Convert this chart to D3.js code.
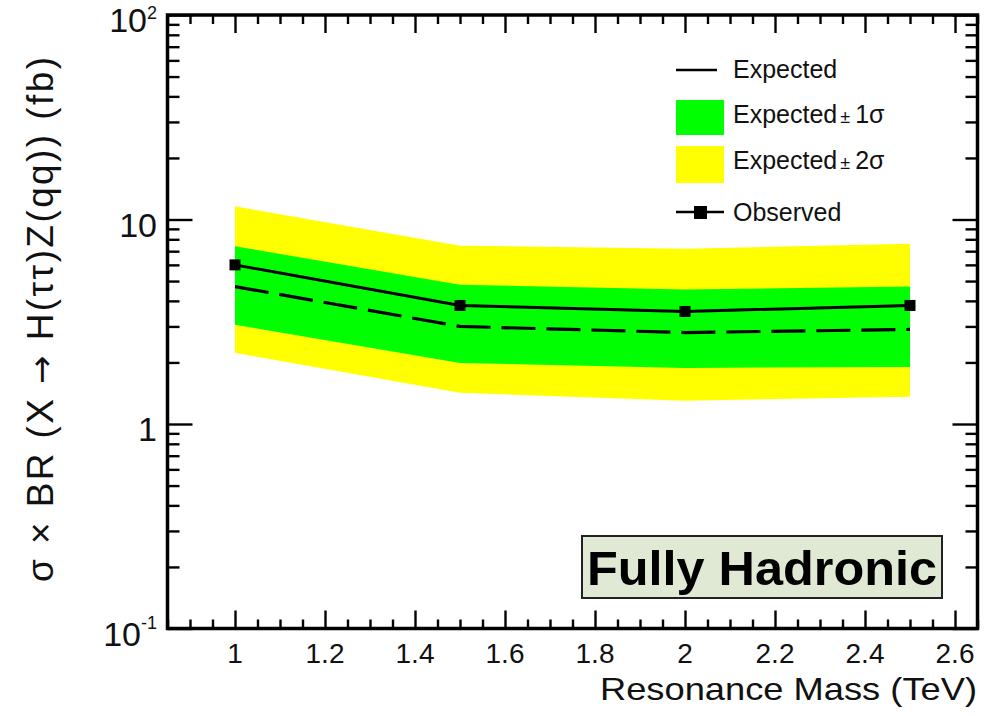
<!DOCTYPE html>
<html>
<head>
<meta charset="utf-8">
<script src="https://cdn.jsdelivr.net/npm/d3@7"></script>
<style>
  html, body { margin: 0; padding: 0; background: #fff; }
  svg { display: block; font-family: "Liberation Sans", Arial, Helvetica, sans-serif; }
</style>
</head>
<body>
<svg id="chart" width="984" height="716"></svg>
<script>
// Resonance mass points (TeV)
const masses = [1.0, 1.5, 2.0, 2.5];
// Observed upper limit (fb)
const observed = [6.0, 3.8, 3.55, 3.8];
// Median expected limit (fb)
const expected = [4.7, 3.0, 2.8, 2.9];
// Expected ±1σ band
const band1Lo = [3.06, 1.99, 1.88, 1.90];
const band1Hi = [7.4, 4.8, 4.55, 4.7];
// Expected ±2σ band
const band2Lo = [2.23, 1.42, 1.30, 1.36];
const band2Hi = [11.6, 7.45, 7.2, 7.6];

const xTickValues = [1.0, 1.2, 1.4, 1.6, 1.8, 2.0, 2.2, 2.4, 2.6];
const xTickLabels = ["1", "1.2", "1.4", "1.6", "1.8", "2", "2.2", "2.4", "2.6"];
const yDecades = [0.1, 1, 10, 100];

const svg = d3.select("#chart");
const L = 167.5, R = 977.5, T = 15, B = 628.5;

const x = d3.scaleLinear().domain([0.85, 2.65]).range([L, R]);
const y = d3.scaleLog().domain([0.1, 100]).range([B, T]);

const pts = masses.map((m, i) => ({
  m, obs: observed[i], exp: expected[i],
  lo1: band1Lo[i], hi1: band1Hi[i], lo2: band2Lo[i], hi2: band2Hi[i]
}));

const plot = svg.append("g");

// ±2σ band
plot.append("path")
  .datum(pts)
  .attr("fill", "#ffff00")
  .attr("d", d3.area().x(d => x(d.m)).y0(d => y(d.lo2)).y1(d => y(d.hi2)));

// ±1σ band
plot.append("path")
  .datum(pts)
  .attr("fill", "#00ff00")
  .attr("d", d3.area().x(d => x(d.m)).y0(d => y(d.lo1)).y1(d => y(d.hi1)));

// expected median (dashed)
plot.append("path")
  .datum(pts)
  .attr("fill", "none")
  .attr("stroke", "#000")
  .attr("stroke-width", 3.2)
  .attr("stroke-dasharray", "34,11")
  .attr("d", d3.line().x(d => x(d.m)).y(d => y(d.exp)));

// observed
plot.append("path")
  .datum(pts)
  .attr("fill", "none")
  .attr("stroke", "#000")
  .attr("stroke-width", 3)
  .attr("d", d3.line().x(d => x(d.m)).y(d => y(d.obs)));

plot.selectAll("rect.obs")
  .data(pts)
  .join("rect")
  .attr("class", "obs")
  .attr("x", d => x(d.m) - 5.5)
  .attr("y", d => y(d.obs) - 5.5)
  .attr("width", 11)
  .attr("height", 11)
  .attr("fill", "#000");

// ---- axes: ticks on all four sides, pointing inward ----
const xMinor = d3.range(0, 37).map(i => +(0.85 + i * 0.05).toFixed(2))
  .filter(v => !xTickValues.some(t => Math.abs(t - v) < 1e-6));
const yMinor = [];
[0.1, 1, 10].forEach(d => { for (let k = 2; k <= 9; k++) yMinor.push(+(d * k).toPrecision(3)); });

const axStyle = g => {
  g.select(".domain").remove();
  g.selectAll(".tick line").attr("stroke", "#000").attr("stroke-width", 2.4);
  g.selectAll(".tick text").remove();
};

svg.append("g").attr("transform", `translate(0,${B})`)
  .call(d3.axisBottom(x).tickValues(xTickValues).tickSize(-18).tickFormat("")).call(axStyle);
svg.append("g").attr("transform", `translate(0,${B})`)
  .call(d3.axisBottom(x).tickValues(xMinor).tickSize(-9).tickFormat("")).call(axStyle);
svg.append("g").attr("transform", `translate(0,${T})`)
  .call(d3.axisTop(x).tickValues(xTickValues).tickSize(-18).tickFormat("")).call(axStyle);
svg.append("g").attr("transform", `translate(0,${T})`)
  .call(d3.axisTop(x).tickValues(xMinor).tickSize(-9).tickFormat("")).call(axStyle);

svg.append("g").attr("transform", `translate(${L},0)`)
  .call(d3.axisLeft(y).tickValues(yDecades).tickSize(-25).tickFormat("")).call(axStyle);
svg.append("g").attr("transform", `translate(${L},0)`)
  .call(d3.axisLeft(y).tickValues(yMinor).tickSize(-12).tickFormat("")).call(axStyle);
svg.append("g").attr("transform", `translate(${R},0)`)
  .call(d3.axisRight(y).tickValues(yDecades).tickSize(-25).tickFormat("")).call(axStyle);
svg.append("g").attr("transform", `translate(${R},0)`)
  .call(d3.axisRight(y).tickValues(yMinor).tickSize(-12).tickFormat("")).call(axStyle);

// frame
svg.append("rect")
  .attr("x", L).attr("y", T).attr("width", R - L).attr("height", B - T)
  .attr("fill", "none").attr("stroke", "#000").attr("stroke-width", 3.5);

// x tick labels
svg.append("g").selectAll("text")
  .data(xTickValues)
  .join("text")
  .attr("x", d => x(d))
  .attr("y", 663)
  .attr("text-anchor", "middle")
  .attr("font-size", 28)
  .attr("fill", "#111")
  .text((d, i) => xTickLabels[i]);

// y tick labels (decades; exponent form at the ends)
const yLab = svg.append("g").attr("fill", "#111");
yDecades.forEach(v => {
  const t = yLab.append("text")
    .attr("x", 157)
    .attr("y", y(v) + 17)
    .attr("text-anchor", "end")
    .attr("font-size", 34);
  if (v === 1 || v === 10) {
    t.text(v === 1 ? "1" : "10");
  } else {
    t.append("tspan").text("10");
    t.append("tspan")
      .attr("font-size", 18)
      .attr("dy", v === 100 ? -13 : -17)
      .text(v === 100 ? "2" : "-1");
  }
});

// axis titles
svg.append("text")
  .attr("x", 977)
  .attr("y", 700)
  .attr("text-anchor", "end")
  .attr("font-size", 32)
  .attr("textLength", 377)
  .attr("lengthAdjust", "spacingAndGlyphs")
  .attr("fill", "#111")
  .text("Resonance Mass (TeV)");

const yTitle = svg.append("text")
  .attr("transform", "translate(53,57) rotate(-90)")
  .attr("text-anchor", "end")
  .attr("font-size", 37)
  .attr("fill", "#111");
yTitle.append("tspan").text("σ × BR (X ");
yTitle.append("tspan").attr("font-family", "'DejaVu Sans', sans-serif").attr("font-size", 34).text("→");
yTitle.append("tspan").text(" H(ττ)Z(qq)) (fb)");
yTitle.attr("textLength", 525).attr("lengthAdjust", "spacing");

// legend
const lg = svg.append("g").attr("font-size", 25).attr("fill", "#111");
lg.append("line").attr("x1", 676).attr("x2", 717).attr("y1", 70).attr("y2", 70)
  .attr("stroke", "#000").attr("stroke-width", 2.4);
lg.append("text").attr("x", 733).attr("y", 78).text("Expected");

lg.append("rect").attr("x", 676).attr("y", 100).attr("width", 48).attr("height", 35).attr("fill", "#00ff00");
const t1 = lg.append("text").attr("x", 733).attr("y", 123);
t1.append("tspan").text("Expected");
t1.append("tspan").attr("font-size", 18).attr("dx", 3).text("±");
t1.append("tspan").attr("dx", 5).text("1σ");

lg.append("rect").attr("x", 676).attr("y", 146).attr("width", 48).attr("height", 37).attr("fill", "#ffff00");
const t2 = lg.append("text").attr("x", 733).attr("y", 169);
t2.append("tspan").text("Expected");
t2.append("tspan").attr("font-size", 18).attr("dx", 3).text("±");
t2.append("tspan").attr("dx", 5).text("2σ");

lg.append("line").attr("x1", 676).attr("x2", 724).attr("y1", 212).attr("y2", 212)
  .attr("stroke", "#000").attr("stroke-width", 2.4);
lg.append("rect").attr("x", 694).attr("y", 206).attr("width", 13).attr("height", 13).attr("fill", "#000");
lg.append("text").attr("x", 733).attr("y", 221).text("Observed");

// channel label
svg.append("rect")
  .attr("x", 582).attr("y", 536).attr("width", 360).attr("height", 62)
  .attr("fill", "#dfe9d4").attr("stroke", "#222").attr("stroke-width", 2);
svg.append("text")
  .attr("x", 587).attr("y", 585)
  .attr("font-size", 48).attr("font-weight", "bold")
  .attr("textLength", 350).attr("lengthAdjust", "spacingAndGlyphs")
  .attr("fill", "#000")
  .text("Fully Hadronic");
</script>
</body>
</html>
